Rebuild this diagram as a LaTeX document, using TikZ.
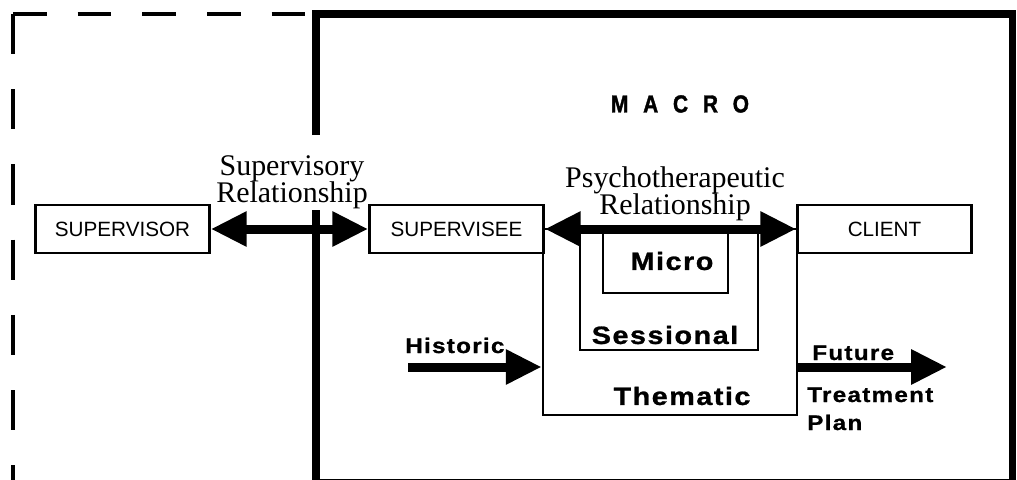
\documentclass[tikz,border=0pt]{standalone}
\usepackage{fontspec}
\setmainfont{Liberation Serif}
\newfontfamily\boxfont{Liberation Sans}
\newfontfamily\levelfont[LetterSpace=6,FakeStretch=1.15,FakeBold=1]{Liberation Sans}
\newfontfamily\macrofont[LetterSpace=60,FakeStretch=0.85,FakeBold=1.5]{Liberation Sans}
\usetikzlibrary{arrows.meta}

\tikzset{
  actorbox/.style={draw,line width=1.8pt,minimum width=4.35cm,minimum height=1.2cm,
    inner sep=0pt,font=\boxfont\fontsize{14.7}{16}\selectfont},
  levelbox/.style={draw,line width=1.8pt,inner sep=0pt},
  bigarrow/.style={line width=6.4pt,>={Triangle[length=25.5pt,width=23.4pt]}},
  rellabel/.style={align=center,inner sep=0pt,font=\fontsize{21.3}{19.5}\selectfont},
  levellabel/.style={inner sep=0pt,font=\levelfont\bfseries\fontsize{17.8}{20}\selectfont},
  flowlabel/.style={inner sep=0pt,anchor=base west,font=\levelfont\bfseries\fontsize{15}{18}\selectfont}
}

\begin{document}
\begin{tikzpicture}[x=0.025cm,y=-0.025cm]
    \useasboundingbox (0,0) rectangle (1017,479);

    % Outer dashed boundary (supervision)
    \draw[line width=2.8pt,dash pattern=on 24pt off 22pt] (13,14) -- (316,14);
    \draw[line width=2.8pt,dash pattern=on 28.5pt off 25pt] (13,14) -- (13,482);
    % Macro boundary, open behind the supervisory label
    \draw[line width=5pt] (316,135) -- (316,14) -- (1012,14) -- (1012,483) -- (316,483) -- (316,210);
    \node[inner sep=0pt,font=\macrofont\bfseries\fontsize{17.5}{18}\selectfont] (macro) at (680,104) {MACRO};

    % Nested levels
    \node[levelbox,minimum width=6.35cm,minimum height=4.65cm] (thematic) at (670,322) {};
    \node[levelbox,minimum width=4.45cm,minimum height=3.025cm] (sessional) at (669,289.5) {};
    \node[levelbox,minimum width=3.125cm,minimum height=1.6cm] (micro) at (665.5,261) {};
    \node[levellabel] (microlab) at (672,261) {Micro};
    \node[levellabel] (sessionallab) at (665,335) {Sessional};
    \node[levellabel] (thematiclab) at (682,396) {Thematic};

    % Participants
    \node[actorbox] (supervisor) at (122.5,229) {SUPERVISOR};
    \node[actorbox] (supervisee) at (456.5,229) {SUPERVISEE};
    \node[actorbox] (client) at (884.5,229) {CLIENT};

    % Relationships
    \draw[bigarrow,<->] (supervisor.east) -- (supervisee.west);
    \draw[bigarrow,<->] (supervisee.east) -- (client.west);
    \node[rellabel] (suprel) at (292,182) {Supervisory\\Relationship};
    \node[rellabel] (psyrel) at (675,194) {Psychotherapeutic\\Relationship};

    % Time line
    \coordinate (histstart) at (408,367);
    \coordinate (futend) at (947,367);
    \draw[bigarrow,->] (histstart) -- (histstart -| thematic.west);
    \draw[bigarrow,->] (futend -| thematic.east) -- (futend);
    \node[flowlabel] (historic) at (405,353) {Historic};
    \node[flowlabel] (future) at (812,360) {Future};
    \node[flowlabel] (treatment) at (807,402) {Treatment};
    \node[flowlabel] (plan) at (807,430) {Plan};
\end{tikzpicture}
\end{document}
